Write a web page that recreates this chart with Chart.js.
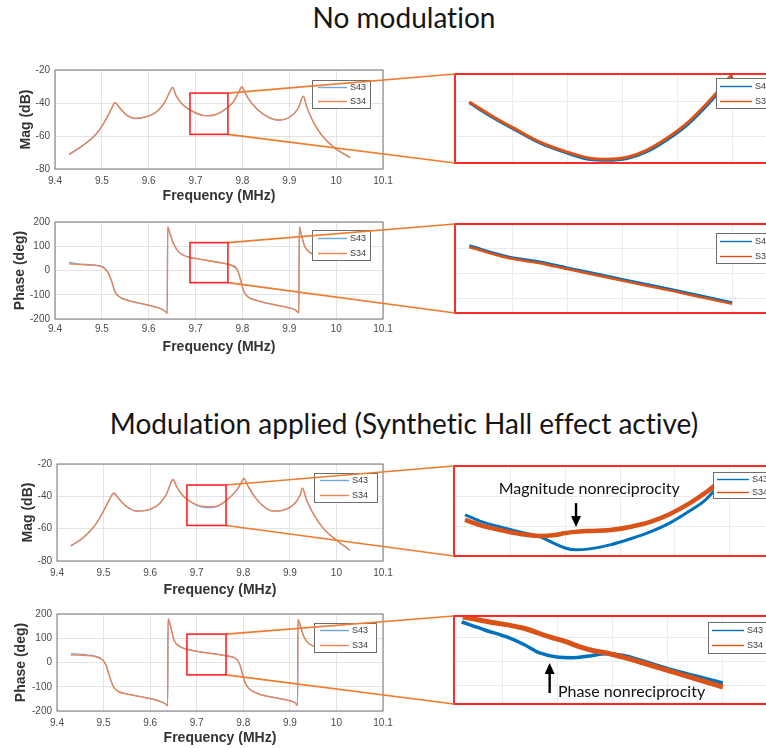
<!DOCTYPE html>
<html>
<head>
<meta charset="utf-8">
<script src="https://cdn.jsdelivr.net/npm/chart.js@4.4.1/dist/chart.umd.min.js"></script>
<style>
  html, body { margin: 0; padding: 0; background: #fff; overflow: hidden; }
  #page { position: relative; width: 766px; height: 748px; overflow: hidden; }
  canvas { position: absolute; }
  #overlay { left: 0; top: 0; pointer-events: none; }
  .heading { position: absolute; left: 0; width: 808px; text-align: center; font-family: Lato, "Open Sans", sans-serif;
             font-size: 28px; line-height: 28px; color: #151515; white-space: nowrap; font-variant-ligatures: none; }
</style>
</head>
<body>
<div id="page">
  <div class="heading" style="top:3px">No modulation</div>
  <div class="heading" style="top:409px">Modulation applied (Synthetic Hall effect active)</div>

  <canvas id="magA"></canvas>
  <canvas id="phaseA"></canvas>
  <canvas id="magB"></canvas>
  <canvas id="phaseB"></canvas>
  <canvas id="zoomMagA"></canvas>
  <canvas id="zoomPhaseA"></canvas>
  <canvas id="zoomMagB"></canvas>
  <canvas id="zoomPhaseB"></canvas>
  <canvas id="overlay"></canvas>
</div>

<script>
// ---- data: full sweeps (MHz, dB / deg) ----
const freqTicks = [9.4, 9.5, 9.6, 9.7, 9.8, 9.9, 10, 10.1];
const magTicks = [-80, -60, -40, -20];
const phaseTicks = [-200, -100, 0, 100, 200];

// no modulation
const freqMagA = [9.43, 9.46, 9.489, 9.51, 9.521, 9.528, 9.539, 9.553, 9.571, 9.596, 9.617, 9.635, 9.645, 9.651, 9.658, 9.670, 9.688, 9.713,
  9.727, 9.745, 9.766, 9.781, 9.791, 9.799, 9.806, 9.820, 9.845, 9.877, 9.902, 9.919, 9.930, 9.937, 9.951, 9.969, 9.994, 10.03];
const magA34 = [-71.0, -65.5, -58.4, -49.3, -43.2, -39.8, -43.2, -47.3, -49.3, -48.3, -45.3, -39.2, -33.2, -30.5, -35.2, -40.2, -44.2, -47.3,
  -47.7, -46.8, -43.2, -39.2, -34.1, -30.3, -34.1, -40.2, -46.8, -50.3, -48.3, -43.2, -35.8, -42.2, -51.3, -59.4, -66.5, -73.0];
const magA43 = [-71.3, -65.7, -58.5, -49.4, -43.2, -39.8, -43.3, -47.4, -49.4, -48.3, -45.3, -39.2, -33.2, -30.5, -35.3, -40.3, -44.3, -47.4,
  -47.8, -46.9, -43.3, -39.2, -34.1, -30.3, -34.2, -40.3, -46.9, -50.4, -48.3, -43.2, -35.8, -42.3, -51.4, -59.5, -66.7, -73.3];

const freqPhaseA = [9.43, 9.455, 9.482, 9.503, 9.514, 9.521, 9.528, 9.539, 9.553, 9.581, 9.610, 9.631, 9.638, 9.6395, 9.6405, 9.645, 9.6525,
  9.663, 9.681, 9.7095, 9.745, 9.773, 9.789, 9.796, 9.803, 9.8125, 9.8305, 9.866, 9.894, 9.912, 9.9205, 9.9213, 9.926, 9.933, 9.944, 9.955, 9.99, 10.03];
const phaseA34 = [27, 24, 22, 13, -12, -46, -88, -111, -122, -136, -149, -163, -174, -177, 180, 154, 112,
  78, 57, 46, 34, 23, 3, -38, -87, -110, -124, -141, -152, -162, -175, 180, 146, 98, 74, 64, 56, 52];
const phaseA43 = [33, 26, 23, 14, -11, -45, -87, -110, -121, -135, -148, -162, -173, -176, 180, 155, 113,
  79, 58, 47, 35, 24, 4, -37, -86, -109, -123, -140, -151, -161, -174, 180, 147, 99, 75, 65, 57, 53];

// modulation applied
const freqMagB = [9.43, 9.457, 9.482, 9.499, 9.512, 9.522, 9.532, 9.550, 9.571, 9.600, 9.621, 9.636, 9.644, 9.649, 9.657, 9.671, 9.693, 9.721,
  9.743, 9.764, 9.786, 9.797, 9.8015, 9.809, 9.822, 9.843, 9.864, 9.886, 9.911, 9.922, 9.927, 9.936, 9.950, 9.972, 10.0, 10.029];
const magB34 = [-70.5, -65.3, -57.7, -49.5, -42.3, -38.1, -41.2, -46.4, -49.1, -48.0, -44.3, -38.1, -31.9, -29.5, -34.0, -39.8, -44.3, -46.4,
  -46.0, -42.3, -36.1, -30.9, -28.9, -33.0, -39.2, -46.0, -49.1, -48.5, -44.3, -39.2, -35.0, -42.3, -50.5, -59.8, -67.0, -73.2];
const magB43 = [-70.8, -65.5, -57.8, -49.6, -42.3, -38.1, -41.3, -46.5, -49.2, -48.0, -44.3, -38.1, -31.9, -29.5, -34.1, -39.9, -44.5, -47.0,
  -46.4, -42.5, -36.2, -30.9, -28.9, -33.1, -39.3, -46.1, -49.2, -48.5, -44.3, -39.2, -35.0, -42.4, -50.6, -60.0, -67.2, -73.4];

const freqPhaseB = [9.43, 9.478, 9.496, 9.505, 9.512, 9.521, 9.532, 9.550, 9.578, 9.607, 9.628, 9.6355, 9.6375, 9.6385, 9.644, 9.651, 9.664, 9.686,
  9.721, 9.764, 9.786, 9.794, 9.8015, 9.811, 9.829, 9.864, 9.893, 9.911, 9.9165, 9.9175, 9.923, 9.930, 9.940, 9.954, 9.99, 10.03];
const phaseB34 = [31, 26, 13, -10, -52, -100, -120, -130, -141, -152, -166, -175, -179, 180, 148, 93, 65, 51,
  40, 27, 13, -17, -72, -106, -127, -144, -155, -166, -177, 178, 148, 106, 79, 65, 55, 50];
const phaseB43 = [37, 28, 15, -9, -51, -99, -119, -129, -140, -151, -165, -174, -178, 180, 149, 94, 66, 52,
  41, 28, 14, -16, -71, -105, -126, -143, -154, -165, -176, 178, 149, 107, 80, 66, 56, 51];

// ---- data: close-ups around the 9.72 MHz dip ----
const zoomFreqTicks = [9.71, 9.72, 9.73, 9.74, 9.75, 9.76];
const zoomMagTicks = [-46, -45];
const zoomPhaseTicks = [35, 40, 45];

const zoomFreqA = [9.7022, 9.706, 9.7102, 9.7151, 9.72, 9.7242, 9.7273, 9.7309, 9.7345, 9.7382, 9.7418, 9.7455, 9.7473, 9.7491, 9.75];
const zoomMagA34 = [-45.0, -45.38, -45.76, -46.18, -46.47, -46.65, -46.68, -46.62, -46.41, -46.06, -45.62, -45.03, -44.71, -44.35, -44.21];
const zoomMagA43 = [-45.02, -45.41, -45.79, -46.21, -46.5, -46.69, -46.71, -46.66, -46.46, -46.11, -45.68, -45.09, -44.76, -44.4, -44.25];

const zoomPhaseFreqA = [9.7022, 9.7091, 9.7151, 9.72, 9.726, 9.7302, 9.7393, 9.7442, 9.75];
const zoomPhaseA34 = [45.4, 43.2, 42.1, 40.9, 39.5, 38.5, 36.4, 35.2, 33.8];
const zoomPhaseA43 = [45.7, 43.5, 42.4, 41.2, 39.8, 38.8, 36.7, 35.5, 34.1];

const zoomFreqB = [9.7018, 9.7045, 9.7082, 9.7118, 9.7155, 9.7182, 9.72, 9.7218, 9.7245, 9.7282, 9.7318, 9.7355, 9.7391, 9.7427, 9.7455, 9.7469, 9.7491];
const zoomMagB43 = [-45.61, -45.81, -46.0, -46.16, -46.32, -46.55, -46.68, -46.74, -46.71, -46.58, -46.39, -46.16, -45.87, -45.48, -45.13, -44.87, -44.35];
const zoomMagB34 = [-45.77, -45.94, -46.10, -46.23, -46.29, -46.26, -46.2, -46.16, -46.13, -46.10, -46.0, -45.84, -45.58, -45.23, -44.90, -44.71, -44.35];

const zoomPhaseFreqB34 = [9.7027, 9.7076, 9.7136, 9.7185, 9.7216, 9.724, 9.7267, 9.7289, 9.7349, 9.7409, 9.7458, 9.75];
const zoomPhaseB34 = [49.38, 48.33, 47.08, 45.21, 44.17, 43.13, 42.29, 41.88, 40.0, 37.92, 36.25, 34.79];
const zoomPhaseFreqB43 = [9.7025, 9.7067, 9.7107, 9.714, 9.7167, 9.7198, 9.7227, 9.7253, 9.7289, 9.7322, 9.7349, 9.7409, 9.7458, 9.75];
const zoomPhaseB43 = [48.33, 46.67, 45.21, 43.54, 41.88, 41.04, 40.9, 41.2, 41.7, 41.3, 40.42, 38.33, 36.88, 35.63];

// zoomed windows marked on the full sweeps: [fmin, fmax], [vmin, vmax]
const winMagA = [[9.688, 9.769], [-59, -34]];
const winPhaseA = [[9.688, 9.769], [-50, 115]];
const winMagB = [[9.679, 9.763], [-58, -33]];
const winPhaseB = [[9.679, 9.763], [-51, 117]];

// ---- styling ----
const BLUE = '#0072BD', ORANGE = '#D95319';
const BLUE_SOFT = '#6fa6dc', ORANGE_SOFT = '#f2834f';
const AXIS_FONT = 'Liberation Sans, Arial, sans-serif';

const pts = (fs, vs) => fs.map((f, i) => ({x: f, y: vs[i]}));

// MATLAB-like box, inset legend and optional arrow note
const matlabAxes = {
  id: 'matlabAxes',
  afterDatasetsDraw(chart, args, opts) {
    const {ctx, chartArea: a} = chart;
    ctx.save();
    ctx.strokeStyle = opts.frameColor;
    ctx.lineWidth = opts.frameWidth;
    ctx.strokeRect(a.left, a.top, a.right - a.left, a.bottom - a.top);

    const lg = opts.legend;
    if (lg) {
      const x = Math.round(a.left + lg.x), y = Math.round(a.top + lg.y);
      ctx.fillStyle = '#fff';
      ctx.fillRect(x, y, lg.w, lg.h);
      ctx.strokeStyle = '#6e6e6e';
      ctx.lineWidth = 1;
      ctx.strokeRect(x + 0.5, y + 0.5, lg.w, lg.h);
      ctx.font = lg.font;
      ctx.textBaseline = 'middle';
      ctx.textAlign = 'left';
      const n = chart.data.datasets.length;
      chart.data.datasets.forEach((ds, i) => {
        const ly = Math.round(y + lg.h * (i + 0.5) / n) + 0.5;
        ctx.strokeStyle = ds.borderColor;
        ctx.lineWidth = 1.4;
        ctx.beginPath();
        ctx.moveTo(x + lg.pad, ly);
        ctx.lineTo(x + lg.pad + lg.line, ly);
        ctx.stroke();
        ctx.fillStyle = '#3a3a3a';
        ctx.fillText(ds.label, x + lg.pad + lg.line + 3, ly);
      });
    }

    const note = opts.note;
    if (note) {
      const xs = chart.scales.x, ys = chart.scales.y;
      const ax = xs.getPixelForValue(note.arrowX);
      const y0 = ys.getPixelForValue(note.arrowFrom), y1 = ys.getPixelForValue(note.arrowTo);
      const dir = Math.sign(y1 - y0);
      ctx.strokeStyle = '#000';
      ctx.fillStyle = '#000';
      ctx.lineWidth = 2.4;
      ctx.beginPath();
      ctx.moveTo(ax, y0);
      ctx.lineTo(ax, y1 - dir * 6);
      ctx.stroke();
      ctx.beginPath();
      ctx.moveTo(ax, y1);
      ctx.lineTo(ax - 5, y1 - dir * 11);
      ctx.lineTo(ax + 5, y1 - dir * 11);
      ctx.closePath();
      ctx.fill();
      ctx.font = '16px Lato, sans-serif';
      ctx.textAlign = note.align;
      ctx.textBaseline = 'alphabetic';
      ctx.fillStyle = '#111';
      ctx.fillText(note.text, xs.getPixelForValue(note.textX), ys.getPixelForValue(note.textY));
    }
    ctx.restore();
  }
};

function place(id, g) {
  const canvas = document.getElementById(id);
  canvas.width = g.cw;
  canvas.height = g.ch;
  canvas.style.left = g.cx + 'px';
  canvas.style.top = g.cy + 'px';
  return canvas;
}

function fixedTicks(list) {
  return scale => { scale.ticks = list.map(v => ({value: v})); };
}

// full sweep plot; g gives canvas rect, axes box and label positions in page pixels
function sweepPlot(id, g, yLabel, yRange, yTicks, series, legend) {
  const [bl, bt, br, bb] = g.box;
  const halfTitle = 8.4;
  const padLeft = g.yTitleX - halfTitle - g.cx;
  const xH = g.xTitleY + halfTitle - bb;
  const canvas = place(id, g);
  const chart = new Chart(canvas, {
    type: 'line',
    data: {
      datasets: [
        {label: 'S43', data: pts(series.f, series.s43), borderColor: BLUE_SOFT, borderWidth: 1.3, order: 2},
        {label: 'S34', data: pts(series.f, series.s34), borderColor: ORANGE_SOFT, borderWidth: 1.3, order: 1}
      ]
    },
    options: {
      responsive: false,
      animation: false,
      events: [],
      layout: {padding: {left: padLeft, top: bt - g.cy, right: g.cx + g.cw - br, bottom: g.cy + g.ch - bb - xH}},
      elements: {point: {radius: 0}, line: {cubicInterpolationMode: 'monotone'}},
      plugins: {
        legend: {display: false},
        tooltip: {enabled: false},
        matlabAxes: {frameColor: '#777', frameWidth: 1, legend: legend}
      },
      scales: {
        x: {
          type: 'linear', min: 9.4, max: 10.1,
          afterBuildTicks: fixedTicks(freqTicks),
          afterFit: s => { s.height = xH; s.paddingLeft = 0; s.paddingRight = 0; },
          border: {display: false},
          grid: {color: '#e4e4e4', drawTicks: false},
          ticks: {padding: g.xTickY - bb - 6, autoSkip: false, maxRotation: 0, color: '#4a4a4a',
                  font: {family: AXIS_FONT, size: 10}, callback: v => String(v)},
          title: {display: true, text: 'Frequency (MHz)', padding: 0, color: '#333',
                  font: {family: AXIS_FONT, size: 14, weight: 'bold'}}
        },
        y: {
          type: 'linear', min: yRange[0], max: yRange[1],
          afterBuildTicks: fixedTicks(yTicks),
          afterFit: s => { s.width = bl - g.cx - padLeft; s.paddingTop = 0; s.paddingBottom = 0; },
          border: {display: false},
          grid: {color: '#e4e4e4', drawTicks: false},
          ticks: {padding: 5, color: '#4a4a4a', font: {family: AXIS_FONT, size: 10}},
          title: {display: true, text: yLabel, padding: 0, color: '#333',
                  font: {family: AXIS_FONT, size: 14, weight: 'bold'}}
        }
      }
    },
    plugins: [matlabAxes]
  });
  return {chart, cx: g.cx, cy: g.cy};
}

// close-up panel: red frame, grid only, no tick labels
function closeUp(id, g, xRange, yRange, yTicks, blue, orange, legend, note) {
  const [bl, bt, br, bb] = g.box;
  const canvas = place(id, g);
  const chart = new Chart(canvas, {
    type: 'line',
    data: {
      datasets: [
        {label: 'S43', data: pts(blue.f, blue.v), borderColor: BLUE, borderWidth: blue.w, order: 2},
        {label: 'S34', data: pts(orange.f, orange.v), borderColor: ORANGE, borderWidth: orange.w, order: 1}
      ]
    },
    options: {
      responsive: false,
      animation: false,
      events: [],
      layout: {padding: {left: bl - g.cx, top: bt - g.cy, right: g.cx + g.cw - br, bottom: g.cy + g.ch - bb}},
      elements: {point: {radius: 0}, line: {cubicInterpolationMode: 'monotone'}},
      plugins: {
        legend: {display: false},
        tooltip: {enabled: false},
        matlabAxes: {frameColor: '#ff2b2b', frameWidth: 2, legend: legend, note: note}
      },
      scales: {
        x: {
          type: 'linear', min: xRange[0], max: xRange[1],
          afterBuildTicks: fixedTicks(zoomFreqTicks),
          afterFit: s => { s.height = 0; s.paddingLeft = 0; s.paddingRight = 0; },
          border: {display: false},
          grid: {color: '#ebebeb', drawTicks: false},
          ticks: {display: false}
        },
        y: {
          type: 'linear', min: yRange[0], max: yRange[1],
          afterBuildTicks: fixedTicks(yTicks),
          afterFit: s => { s.width = 0; s.paddingTop = 0; s.paddingBottom = 0; },
          border: {display: false},
          grid: {color: '#ebebeb', drawTicks: false},
          ticks: {display: false}
        }
      }
    },
    plugins: [matlabAxes]
  });
  return {chart, cx: g.cx, cy: g.cy};
}

const smallLegend = (w, h, y) => ({x: 257, y: y, w: w, h: h, pad: 6, line: 29, font: '9px ' + AXIS_FONT});
const panelLegend = (x, y, h) => ({x: x, y: y, w: 80, h: h, pad: 4, line: 32, font: '9px ' + AXIS_FONT});

const magA = sweepPlot('magA', {cx: 0, cy: 50, cw: 400, ch: 160, box: [55, 70, 383, 169], yTitleX: 26, xTickY: 181, xTitleY: 196},
  'Mag (dB)', [-80, -20], magTicks, {f: freqMagA, s43: magA43, s34: magA34}, smallLegend(58, 28, 10));
const phaseA = sweepPlot('phaseA', {cx: 0, cy: 205, cw: 400, ch: 155, box: [55, 222, 383, 319], yTitleX: 20, xTickY: 329, xTitleY: 347},
  'Phase (deg)', [-200, 200], phaseTicks, {f: freqPhaseA, s43: phaseA43, s34: phaseA34}, smallLegend(58, 30, 8));
const magB = sweepPlot('magB', {cx: 0, cy: 445, cw: 400, ch: 160, box: [57, 464, 383, 561], yTitleX: 28, xTickY: 573, xTitleY: 590},
  'Mag (dB)', [-80, -20], magTicks, {f: freqMagB, s43: magB43, s34: magB34}, smallLegend(63, 29, 9));
const phaseB = sweepPlot('phaseB', {cx: 0, cy: 598, cw: 400, ch: 150, box: [57, 614, 383, 711], yTitleX: 21, xTickY: 723, xTitleY: 738},
  'Phase (deg)', [-200, 200], phaseTicks, {f: freqPhaseB, s43: phaseB43, s34: phaseB34}, smallLegend(62, 29, 9));

const zMagA = closeUp('zoomMagA', {cx: 440, cy: 60, cw: 400, ch: 120, box: [455, 74, 830, 163]},
  [9.6996, 9.7678], [-46.79, -44.18], zoomMagTicks,
  {f: zoomFreqA, v: zoomMagA43, w: 3}, {f: zoomFreqA, v: zoomMagA34, w: 3}, panelLegend(261, 4, 30));
const zPhaseA = closeUp('zoomPhaseA', {cx: 440, cy: 210, cw: 400, ch: 120, box: [455, 224, 830, 313]},
  [9.6996, 9.7678], [31.94, 50.1], zoomPhaseTicks,
  {f: zoomPhaseFreqA, v: zoomPhaseA43, w: 2.5}, {f: zoomPhaseFreqA, v: zoomPhaseA34, w: 2.5}, panelLegend(261, 9, 30));
const zMagB = closeUp('zoomMagB', {cx: 440, cy: 452, cw: 400, ch: 120, box: [454, 466, 830, 556]},
  [9.6998, 9.7682], [-46.94, -44.03], zoomMagTicks,
  {f: zoomFreqB, v: zoomMagB43, w: 3}, {f: zoomFreqB, v: zoomMagB34, w: 4.5}, panelLegend(259, 6, 26),
  {text: 'Magnitude nonreciprocity', align: 'center', textX: 9.7244, textY: -44.94, arrowX: 9.722, arrowFrom: -45.23, arrowTo: -46.0});
const zPhaseB = closeUp('zoomPhaseB', {cx: 440, cy: 602, cw: 400, ch: 120, box: [454, 616, 830, 704]},
  [9.7011, 9.7695], [31.25, 49.58], zoomPhaseTicks,
  {f: zoomPhaseFreqB43, v: zoomPhaseB43, w: 3.5}, {f: zoomPhaseFreqB34, v: zoomPhaseB34, w: 5}, panelLegend(254, 6, 31),
  {text: 'Phase nonreciprocity', align: 'left', textX: 9.72, textY: 32.71, arrowX: 9.7185, arrowFrom: 33.54, arrowTo: 39.79});

// red zoom boxes on the sweeps and the orange leader lines to the close-ups
const overlay = document.getElementById('overlay');
overlay.width = 766;
overlay.height = 748;
const octx = overlay.getContext('2d');
[[magA, zMagA, winMagA], [phaseA, zPhaseA, winPhaseA], [magB, zMagB, winMagB], [phaseB, zPhaseB, winPhaseB]].forEach(([src, dst, win]) => {
  const xs = src.chart.scales.x, ys = src.chart.scales.y;
  const l = src.cx + xs.getPixelForValue(win[0][0]);
  const r = src.cx + xs.getPixelForValue(win[0][1]);
  const t = src.cy + ys.getPixelForValue(win[1][1]);
  const b = src.cy + ys.getPixelForValue(win[1][0]);
  const pa = dst.chart.chartArea;
  const pl = dst.cx + pa.left, pt = dst.cy + pa.top, pb = dst.cy + pa.bottom;

  octx.strokeStyle = '#ef7b2e';
  octx.lineWidth = 1.6;
  octx.beginPath();
  octx.moveTo(r, t); octx.lineTo(pl, pt);
  octx.moveTo(r, b); octx.lineTo(pl, pb);
  octx.stroke();

  octx.strokeStyle = '#ff2424';
  octx.lineWidth = 1.6;
  octx.strokeRect(l, t, r - l, b - t);
});
</script>
</body>
</html>
